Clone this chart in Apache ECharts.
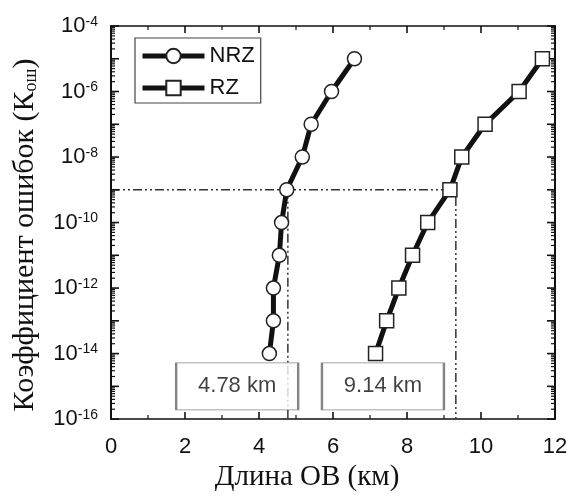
<!DOCTYPE html>
<html>
<head>
<meta charset="utf-8">
<script src="https://cdn.jsdelivr.net/npm/echarts@6/dist/echarts.min.js"></script>
<style>
html, body { margin: 0; padding: 0; background: #fff; }
#chart { width: 573px; height: 497px; }
</style>
</head>
<body>
<div id="chart"></div>
<script>
// BER exponents (10^n) for each point
const berExp = [-14, -13, -12, -11, -10, -9, -8, -7, -6, -5]
const nrzLen = [4.28, 4.39, 4.39, 4.55, 4.61, 4.75, 5.17, 5.41, 5.96, 6.58]
const rzLen = [7.15, 7.45, 7.78, 8.15, 8.56, 9.16, 9.48, 10.11, 11.03, 11.66]
// threshold guide lines (length, exponent)
const thrExp = -9
const nrzCross = 4.78
const rzCross = 9.32
const boxLabels = ['4.78 km', '9.14 km']
const boxPos = [[3.41, -15], [7.35, -15]]

// axis ranges and tick positions
const X_MIN = 0, X_MAX = 12
const Y_MIN = -16, Y_MAX = -4
const xMajor = [0, 2, 4, 6, 8, 10, 12]
const xMinor = [1, 3, 5, 7, 9, 11]
const yMajor = [-16, -15, -14, -13, -12, -11, -10, -9, -8, -7, -6, -5, -4]
// minor ticks of a log axis: log10(k * 10^n)
const yMinor = []
for (let n = Y_MIN; n < Y_MAX; n++) {
    for (let k = 2; k <= 9; k++) yMinor.push(n + Math.log10(k))
}

const SANS = "'Liberation Sans', Arial, sans-serif"
const SERIF = "'Liberation Serif', 'Times New Roman', serif"

// ticks drawn on all four sides, pointing into the plot
// kind: 0 x major, 1 x minor, 2 y major, 3 y minor
const tickData = [
    ...xMajor.map(v => [v, 0]),
    ...xMinor.map(v => [v, 1]),
    ...yMajor.map(v => [v, 2]),
    ...yMinor.map(v => [v, 3])
]
function renderTicks(params, api) {
    const v = api.value(0)
    const kind = api.value(1)
    const style = { stroke: '#111', lineWidth: kind % 2 === 0 ? 1.6 : 1.2 }
    let len, a, b
    if (kind < 2) {
        len = kind === 0 ? 7 : 4
        a = api.coord([v, Y_MIN])
        b = api.coord([v, Y_MAX])
        return {
            type: 'group',
            children: [
                { type: 'line', shape: { x1: a[0], y1: a[1], x2: a[0], y2: a[1] - len }, style: style },
                { type: 'line', shape: { x1: b[0], y1: b[1], x2: b[0], y2: b[1] + len }, style: style }
            ]
        }
    }
    len = kind === 2 ? 8 : 4
    a = api.coord([X_MIN, v])
    b = api.coord([X_MAX, v])
    return {
        type: 'group',
        children: [
            { type: 'line', shape: { x1: a[0], y1: a[1], x2: a[0] + len, y2: a[1] }, style: style },
            { type: 'line', shape: { x1: b[0], y1: b[1], x2: b[0] - len, y2: b[1] }, style: style }
        ]
    }
}

const chart = echarts.init(document.getElementById('chart'))
const option = {
    backgroundColor: '#fff',
    animation: false,
    grid: { left: 111, right: 18, top: 26, bottom: 74 },
    legend: {
        left: 135, top: 38,
        orient: 'vertical',
        data: ['NRZ', 'RZ'],
        borderColor: '#444', borderWidth: 1.2,
        padding: [7, 6, 4, 5],
        itemWidth: 62, itemHeight: 18, itemGap: 10,
        lineStyle: { width: 5, color: '#111' },
        textStyle: { fontFamily: SANS, fontSize: 22, color: '#111' }
    },
    graphic: [{
        type: 'text',
        x: 25, y: 235,
        rotation: Math.PI / 2,
        style: {
            text: '{n|Коэффициент ошибок (К}{sub|ош}{n|)}',
            align: 'center', verticalAlign: 'middle',
            rich: {
                n: { fontFamily: SERIF, fontSize: 30, fill: '#111' },
                sub: { fontFamily: SERIF, fontSize: 18, fill: '#111', verticalAlign: 'bottom' }
            }
        }
    }],
    xAxis: [
        {
            type: 'value', position: 'bottom', min: X_MIN, max: X_MAX, interval: 2,
            name: 'Длина ОВ (км)', nameLocation: 'middle', nameGap: 42,
            nameTextStyle: { fontFamily: SERIF, fontSize: 29, color: '#111', padding: [0, 52, 0, 0] },
            axisLine: { show: true, onZero: false, lineStyle: { color: '#111', width: 1.5 } },
            axisTick: { show: false },
            axisLabel: { fontFamily: SANS, fontSize: 22, color: '#111', margin: 17 },
            splitLine: { show: false }
        },
        {
            type: 'value', position: 'top', min: X_MIN, max: X_MAX, interval: 2,
            axisLine: { show: true, onZero: false, lineStyle: { color: '#111', width: 1.5 } },
            axisTick: { show: false },
            axisLabel: { show: false },
            splitLine: { show: false }
        }
    ],
    yAxis: [
        {
            type: 'value', position: 'left', min: Y_MIN, max: Y_MAX, interval: 1,
            axisLine: { show: true, onZero: false, lineStyle: { color: '#111', width: 2 } },
            axisTick: { show: false },
            axisLabel: {
                margin: 13,
                formatter: v => (v % 2 === 0 ? '{b|10}{s|' + v + '}' : ''),
                rich: {
                    b: { fontFamily: SANS, fontSize: 22, color: '#111' },
                    s: { fontFamily: SANS, fontSize: 14, color: '#111', verticalAlign: 'top' }
                }
            },
            splitLine: { show: false }
        },
        {
            type: 'value', position: 'right', min: Y_MIN, max: Y_MAX, interval: 1,
            axisLine: { show: true, onZero: false, lineStyle: { color: '#111', width: 2 } },
            axisTick: { show: false },
            axisLabel: { show: false },
            splitLine: { show: false }
        }
    ],
    series: [
        {
            name: 'ticks', type: 'custom', silent: true, z: 2,
            renderItem: renderTicks,
            data: tickData
        },
        {
            name: 'guide', type: 'line', silent: true, z: 1,
            symbol: 'none',
            lineStyle: { color: '#333', width: 1.5, type: [9, 3, 2, 3, 2, 3] },
            data: [[X_MIN, thrExp], [rzCross, thrExp], [rzCross, Y_MIN]]
        },
        {
            name: 'guide2', type: 'line', silent: true, z: 1,
            symbol: 'none',
            lineStyle: { color: '#333', width: 1.5, type: [9, 3, 2, 3, 2, 3] },
            data: [[nrzCross, thrExp], [nrzCross, Y_MIN]]
        },
        {
            name: 'NRZ', type: 'line', z: 3,
            symbol: 'circle', symbolSize: 14,
            lineStyle: { color: '#111', width: 5 },
            itemStyle: { color: '#fff', borderColor: '#222', borderWidth: 1.5 },
            data: nrzLen.map((x, i) => [x, berExp[i]])
        },
        {
            name: 'RZ', type: 'line', z: 3,
            symbol: 'rect', symbolSize: 14,
            lineStyle: { color: '#111', width: 5 },
            itemStyle: { color: '#fff', borderColor: '#222', borderWidth: 1.5 },
            data: rzLen.map((x, i) => [x, berExp[i]])
        },
        {
            name: 'boxes', type: 'scatter', z: 5, silent: true,
            symbol: 'rect', symbolSize: [122, 47],
            itemStyle: { color: '#fff', borderColor: '#666', borderWidth: 1.5 },
            label: {
                show: true, position: 'inside',
                fontFamily: SANS, fontSize: 22, color: '#111',
                formatter: p => boxLabels[p.dataIndex]
            },
            data: boxPos
        }
    ]
}
chart.setOption(option)
</script>
</body>
</html>
